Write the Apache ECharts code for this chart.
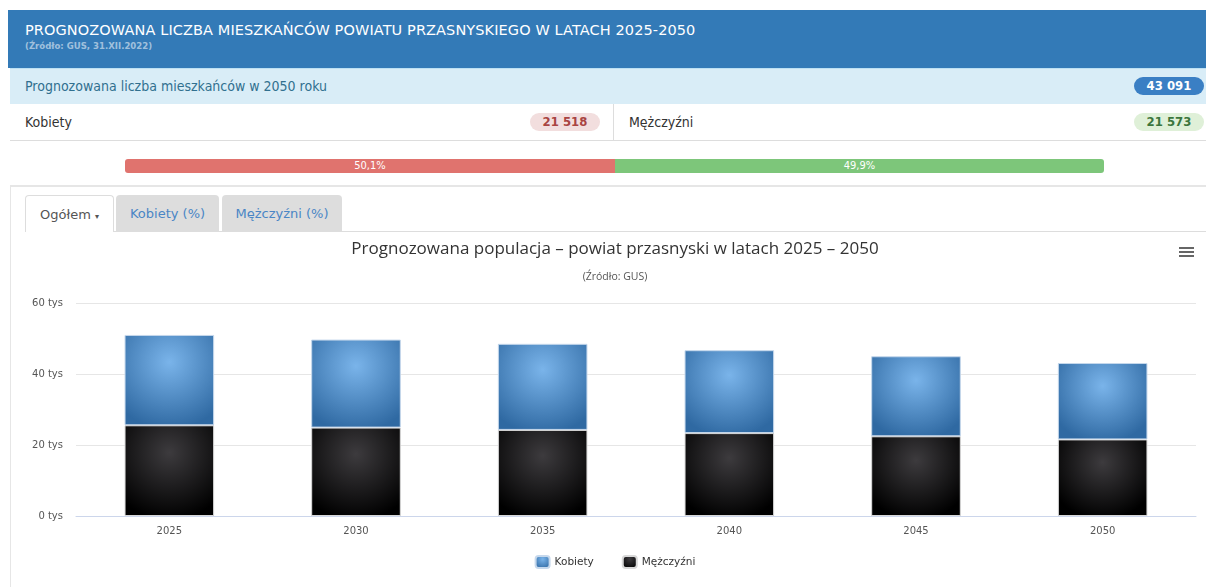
<!DOCTYPE html>
<html>
<head>
<meta charset="utf-8">
<script src="https://cdn.jsdelivr.net/npm/echarts@6/dist/echarts.min.js"></script>
<style>
  body { margin: 0; background: #fff; font-family: "DejaVu Sans Condensed", "DejaVu Sans", sans-serif; width: 1206px; height: 587px; overflow: hidden; position: relative; }
  .abs { position: absolute; box-sizing: border-box; }
  .head { left: 8px; top: 10px; width: 1198px; height: 58px; background: #337ab7; color: #fff; padding: 12px 0 0 17px; }
  .head .t { font-family: "DejaVu Sans", sans-serif; font-size: 14.5px; letter-spacing: 0.1px; }
  .head .s { font-size: 9.5px; font-weight: bold; color: rgba(255,255,255,0.55); margin-top: 2px; }
  .info { left: 10px; top: 68px; width: 1196px; height: 36px; background: #d9edf7; border-top: 1px solid #bce0f3; color: #31708f; font-size: 14px; padding: 9px 0 0 15px; }
  .row { top: 104px; height: 37px; background: #fff; border-bottom: 1px solid #ddd; color: #333; font-size: 14px; padding: 10px 0 0 15px; }
  .badge { position: absolute; top: 9px; height: 18px; line-height: 18px; border-radius: 9px; font-weight: bold; font-size: 13px; text-align: center; width: 70px; }
  .prog { left: 125px; top: 159px; width: 979px; height: 14px; border-radius: 3px; overflow: hidden; font-size: 11px; color: #fff; line-height: 14px; text-align: center; }
  .tab { top: 195px; height: 37px; font-family: "DejaVu Sans", sans-serif; font-size: 13px; padding-top: 11px; text-align: center; border-radius: 4px 4px 0 0; }
</style>
</head>
<body>
<div class="abs head">
  <div class="t">PROGNOZOWANA LICZBA MIESZKAŃCÓW POWIATU PRZASNYSKIEGO W LATACH 2025-2050</div>
  <div class="s">(Źródło: GUS, 31.XII.2022)</div>
</div>
<div class="abs info">Prognozowana liczba mieszkańców w 2050 roku
  <span class="badge" style="left:1124px;top:8px;background:#3a7fc4;color:#fff;">43 091</span>
</div>
<div class="abs row" style="left:10px;width:604px;border-right:1px solid #ddd;">Kobiety
  <span class="badge" style="left:520px;background:#f2dede;color:#a94442;">21 518</span>
</div>
<div class="abs row" style="left:614px;width:592px;">Mężczyźni
  <span class="badge" style="left:520px;background:#dff0d8;color:#3c763d;">21 573</span>
</div>
<div class="abs prog">
  <div style="position:absolute;left:0;top:0;width:490px;height:14px;background:#e0736e;">50,1%</div>
  <div style="position:absolute;left:490px;top:0;width:489px;height:14px;background:#7dc67a;">49,9%</div>
</div>
<div class="abs" style="left:10px;top:185px;width:1196px;height:402px;border-top:2px solid #e6e6e6;border-left:1px solid #e6e6e6;"></div>
<div class="abs" style="left:113px;top:231px;width:1093px;height:1px;background:#ddd;"></div>
<div class="abs tab" style="left:25px;width:89px;background:#fff;border:1px solid #ddd;border-bottom:none;color:#555;">Ogółem <span style="font-size:8px;">▾</span></div>
<div class="abs tab" style="left:116px;width:103px;background:#ddd;color:#4a86c5;">Kobiety (%)</div>
<div class="abs tab" style="left:222px;width:120px;background:#ddd;color:#4a86c5;">Mężczyźni (%)</div>
<div id="chart" class="abs" style="left:24px;top:233px;width:1182px;height:354px;"></div>
<script>
var years = ['2025', '2030', '2035', '2040', '2045', '2050'];
var kobiety = [25450, 24800, 24250, 23350, 22550, 21518];
var mezczyzni = [25550, 24900, 24250, 23350, 22450, 21573];
var yTicks = [0, 20000, 40000, 60000];

var blueFill = { type: 'radial', x: 0.5, y: 0.3, r: 0.75, colorStops: [{ offset: 0, color: '#7ab4ea' }, { offset: 1, color: '#2f69a2' }] };
var blackFill = { type: 'radial', x: 0.5, y: 0.3, r: 0.75, colorStops: [{ offset: 0, color: '#3d3b3e' }, { offset: 1, color: '#000' }] };

var chart = echarts.init(document.getElementById('chart'));
chart.setOption({
  animation: false,
  title: [
    { text: 'Prognozowana populacja – powiat przasnyski w latach 2025 – 2050', left: 'center', top: 3, textStyle: { fontFamily: 'Open Sans', fontSize: 17, fontWeight: 'normal', color: '#333' } },
    { text: '(Źródło: GUS)', left: 'center', top: 34, textStyle: { fontFamily: 'Open Sans', fontSize: 10.5, fontWeight: 'normal', color: '#555' } }
  ],
  graphic: [
    { type: 'rect', right: 12, top: 14, shape: { width: 15, height: 2 }, style: { fill: '#666' } },
    { type: 'rect', right: 12, top: 18, shape: { width: 15, height: 2 }, style: { fill: '#666' } },
    { type: 'rect', right: 12, top: 22, shape: { width: 15, height: 2 }, style: { fill: '#666' } }
  ],
  legend: {
    bottom: 13, itemWidth: 14, itemHeight: 12, itemGap: 28,
    textStyle: { fontFamily: 'DejaVu Sans', fontSize: 10.5, color: '#333' },
    data: ['Kobiety', 'Mężczyźni']
  },
  grid: { left: 52, right: 10, top: 70, bottom: 71 },
  xAxis: {
    type: 'category', data: years,
    axisLine: { lineStyle: { color: '#ccd6eb' } },
    axisTick: { alignWithLabel: false, length: 9, lineStyle: { color: '#ccd6eb' } },
    axisLabel: { fontFamily: 'DejaVu Sans', fontSize: 10, color: '#555', margin: 10 }
  },
  yAxis: {
    type: 'value', min: 0, max: 60000, interval: 20000,
    axisLabel: {
      fontFamily: 'DejaVu Sans', fontSize: 10, color: '#555', margin: 13,
      formatter: function (v) { return yTicks.indexOf(v) >= 0 ? (v / 1000) + ' tys' : ''; }
    },
    splitLine: { lineStyle: { color: '#e6e6e6' } }
  },
  series: [
    { name: 'Mężczyźni', type: 'bar', stack: 'all', barWidth: '48%', data: mezczyzni, itemStyle: { color: blackFill, borderColor: '#d8d8d8', borderWidth: 1 } },
    { name: 'Kobiety', type: 'bar', stack: 'all', barWidth: '48%', data: kobiety, itemStyle: { color: blueFill, borderColor: '#c6d8ec', borderWidth: 1 } }
  ]
});
</script>
</body>
</html>
